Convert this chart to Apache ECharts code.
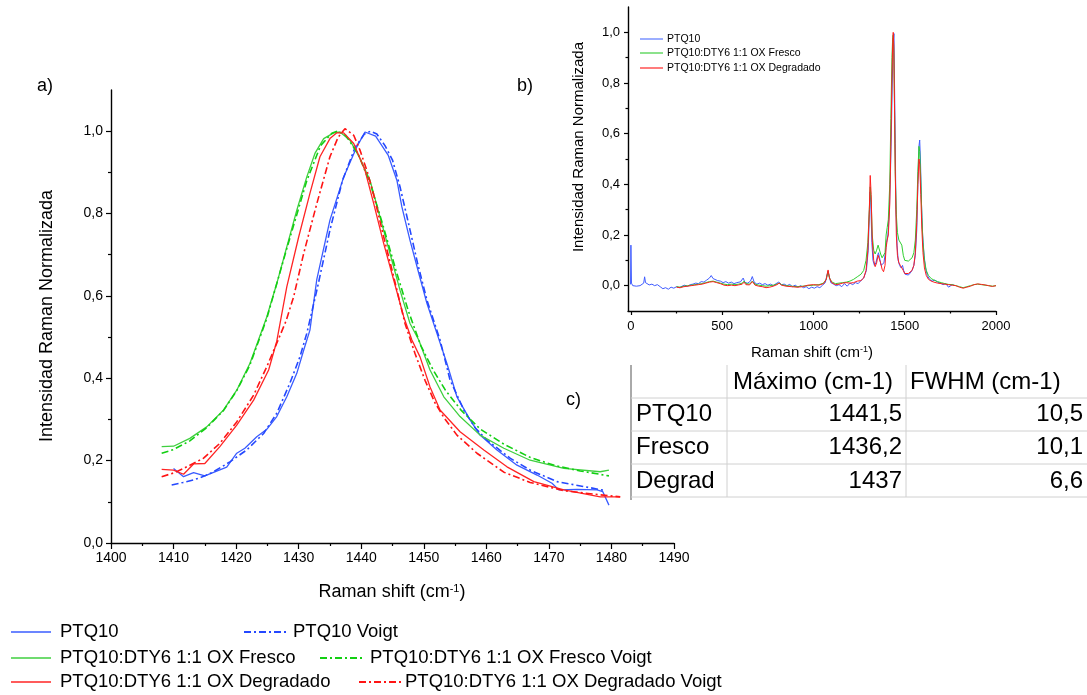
<!DOCTYPE html>
<html><head><meta charset="utf-8">
<script src="https://cdn.jsdelivr.net/npm/echarts@6/dist/echarts.min.js"></script>
<style>html,body{margin:0;padding:0;background:#fff}#c{width:1087px;height:695px}</style>
</head><body><div id="c"></div><script>
// ---------- Main panel (a) data ----------
const ptq10X = [1410.0,1411.6,1413.2,1415.0,1418.5,1420.1,1421.4,1423.3,1424.9,1426.5,1428.1,1429.7,1430.8,1431.8,1432.9,1435.0,1437.2,1439.3,1440.6,1442.3,1444.3,1445.7,1446.5,1447.8,1449.2,1450.5,1452.1,1453.7,1455.3,1457.4,1459.0,1461.7,1464.9,1468.1,1470.5,1471.6,1474.5,1477.7,1478.6,1479.6];
const ptq10Y = [0.181,0.161,0.171,0.163,0.184,0.218,0.230,0.258,0.276,0.307,0.355,0.412,0.468,0.517,0.640,0.784,0.889,0.962,0.998,0.988,0.942,0.881,0.816,0.735,0.655,0.582,0.509,0.436,0.355,0.299,0.262,0.226,0.189,0.165,0.145,0.129,0.130,0.129,0.125,0.092];
const ptq10VoigtX = [1409.7,1411.5,1413.2,1415.0,1416.4,1419.0,1421.7,1424.4,1426.5,1428.6,1430.2,1431.3,1433.0,1435.0,1437.0,1439.0,1440.5,1441.5,1442.5,1443.8,1445.0,1446.2,1447.5,1449.0,1450.5,1452.6,1454.2,1456.4,1458.2,1460.1,1463.8,1467.0,1471.3,1475.6,1478.8];
const ptq10VoigtY = [0.141,0.147,0.153,0.163,0.173,0.197,0.226,0.266,0.315,0.388,0.452,0.509,0.620,0.760,0.880,0.960,0.993,1.000,0.993,0.965,0.930,0.865,0.780,0.680,0.590,0.493,0.396,0.323,0.280,0.250,0.206,0.177,0.149,0.137,0.128];
const frescoX = [1408.1,1410.0,1412.6,1415.3,1418.0,1420.1,1422.2,1423.5,1424.9,1426.5,1428.1,1429.7,1431.3,1432.6,1434.0,1435.6,1436.6,1438.2,1439.8,1441.4,1443.0,1444.6,1446.2,1447.8,1449.2,1451.0,1453.2,1455.8,1459.0,1462.8,1467.0,1472.4,1478.2,1479.6];
const frescoY = [0.234,0.235,0.254,0.282,0.323,0.371,0.436,0.490,0.549,0.630,0.719,0.808,0.889,0.946,0.982,0.996,0.998,0.978,0.934,0.881,0.792,0.703,0.614,0.533,0.493,0.420,0.355,0.307,0.262,0.230,0.201,0.181,0.173,0.177];
const frescoVoigtX = [1408.1,1410.0,1412.6,1415.3,1418.0,1420.1,1422.2,1424.9,1428.1,1431.3,1433.5,1435.3,1436.2,1437.5,1439.5,1441.5,1443.5,1445.5,1447.5,1449.5,1451.5,1453.5,1456.0,1459.0,1462.8,1467.0,1471.0,1475.0,1479.6];
const frescoVoigtY = [0.218,0.227,0.248,0.280,0.322,0.370,0.432,0.545,0.715,0.880,0.965,0.995,1.000,0.990,0.945,0.870,0.770,0.665,0.565,0.480,0.420,0.370,0.322,0.277,0.240,0.208,0.188,0.175,0.163];
const degradX = [1408.1,1410.0,1411.6,1413.2,1415.0,1417.4,1420.1,1422.8,1425.2,1426.5,1428.1,1430.0,1431.8,1433.4,1435.0,1436.1,1437.2,1438.8,1440.6,1442.0,1443.6,1445.2,1446.8,1448.1,1449.4,1451.0,1452.6,1455.8,1459.6,1463.3,1467.6,1472.4,1478.2,1481.4];
const degradY = [0.179,0.177,0.167,0.192,0.193,0.234,0.286,0.347,0.420,0.490,0.622,0.743,0.849,0.938,0.982,0.996,0.996,0.970,0.905,0.824,0.727,0.638,0.549,0.493,0.452,0.379,0.323,0.270,0.226,0.185,0.149,0.129,0.112,0.112];
const degradVoigtX = [1408.1,1410.0,1411.6,1414.8,1417.4,1420.1,1422.8,1424.9,1426.5,1428.0,1429.2,1430.8,1432.9,1435.0,1436.3,1437.4,1438.8,1439.8,1441.0,1442.0,1443.6,1445.2,1447.0,1448.6,1450.2,1451.8,1453.2,1455.3,1458.5,1462.8,1467.0,1472.4,1478.2,1481.4];
const degradVoigtY = [0.161,0.170,0.181,0.206,0.242,0.294,0.359,0.428,0.485,0.540,0.598,0.703,0.824,0.938,0.985,1.006,0.990,0.954,0.900,0.845,0.743,0.646,0.533,0.460,0.395,0.340,0.305,0.262,0.218,0.172,0.147,0.127,0.117,0.112];

// ---------- Inset panel (b) data: [Raman shift, intensity] ----------
const insetPTQ10 = [[-2,0.005],[0,0.16],[3,0.01],[10,0.0],[20,0.005],[30,-0.002],[40,0.004],[50,0.0],[60,0.003],[70,0.01],[75,0.035],[80,0.012],[90,0.006],[100,0.003],[115,0.006],[130,0.0],[145,0.004],[160,-0.004],[175,-0.012],[190,-0.008],[205,-0.014],[220,-0.006],[235,-0.01],[250,-0.004],[265,-0.008],[280,-0.002],[295,0.002],[310,-0.003],[325,0.004],[340,0.006],[355,0.01],[370,0.008],[385,0.016],[400,0.014],[415,0.022],[430,0.03],[440,0.04],[450,0.028],[460,0.032],[475,0.02],[490,0.018],[505,0.012],[520,0.016],[535,0.01],[550,0.014],[565,0.008],[580,0.012],[600,0.015],[615,0.03],[625,0.012],[640,0.01],[655,0.018],[665,0.036],[675,0.014],[690,0.006],[705,0.01],[720,0.004],[735,0.008],[750,0.002],[765,0.006],[780,0.0],[795,0.008],[810,0.014],[825,0.004],[840,0.006],[855,0.0],[870,0.005],[885,-0.004],[900,0.002],[915,-0.006],[930,0.0],[945,-0.008],[960,-0.004],[975,-0.012],[990,-0.006],[1005,-0.01],[1020,-0.004],[1035,-0.008],[1050,0.002],[1065,0.012],[1075,0.045],[1080,0.058],[1085,0.04],[1095,0.012],[1110,0.006],[1125,0.0],[1140,0.004],[1155,-0.004],[1170,0.008],[1185,-0.002],[1200,0.01],[1215,0.004],[1230,0.012],[1245,0.008],[1260,0.02],[1275,0.03],[1290,0.06],[1300,0.14],[1306,0.28],[1310,0.37],[1314,0.33],[1320,0.17],[1326,0.1],[1334,0.08],[1342,0.09],[1350,0.115],[1356,0.13],[1362,0.11],[1370,0.08],[1378,0.075],[1386,0.09],[1394,0.13],[1400,0.17],[1408,0.2],[1416,0.3],[1422,0.45],[1428,0.65],[1434,0.88],[1438,0.97],[1441,0.995],[1444,0.8],[1448,0.56],[1452,0.3],[1458,0.16],[1464,0.1],[1472,0.08],[1480,0.07],[1488,0.08],[1494,0.06],[1502,0.045],[1510,0.04],[1520,0.042],[1530,0.05],[1540,0.06],[1550,0.08],[1558,0.12],[1566,0.22],[1572,0.4],[1578,0.55],[1582,0.575],[1586,0.5],[1592,0.32],[1598,0.2],[1606,0.12],[1614,0.07],[1624,0.04],[1636,0.025],[1650,0.018],[1665,0.022],[1680,0.014],[1695,0.01],[1710,0.004],[1725,0.008],[1740,-0.006],[1750,-0.012],[1760,0.004],[1775,0.0]];
const insetFresco = [[250,-0.004],[270,-0.006],[290,-0.002],[310,0.0],[330,0.002],[350,0.004],[370,0.006],[390,0.008],[410,0.012],[430,0.016],[450,0.018],[470,0.014],[490,0.01],[510,0.006],[530,0.004],[550,0.006],[570,0.004],[590,0.006],[610,0.01],[620,0.018],[630,0.008],[650,0.006],[665,0.018],[680,0.006],[700,0.002],[720,0.0],[740,-0.002],[760,0.0],[780,0.002],[800,0.006],[812,0.01],[825,0.004],[850,0.0],[880,-0.002],[910,-0.004],[940,-0.002],[970,0.0],[1000,0.002],[1030,0.004],[1055,0.01],[1070,0.025],[1080,0.056],[1088,0.03],[1100,0.015],[1120,0.008],[1140,0.01],[1160,0.012],[1180,0.014],[1200,0.018],[1220,0.025],[1240,0.035],[1260,0.045],[1275,0.06],[1288,0.1],[1298,0.17],[1306,0.3],[1311,0.39],[1316,0.34],[1322,0.2],[1330,0.14],[1338,0.125],[1346,0.14],[1354,0.16],[1360,0.155],[1368,0.125],[1376,0.11],[1384,0.105],[1392,0.13],[1398,0.2],[1404,0.23],[1410,0.26],[1418,0.4],[1424,0.66],[1430,0.9],[1434,0.98],[1437,0.99],[1440,0.92],[1444,0.7],[1448,0.45],[1454,0.28],[1460,0.21],[1468,0.18],[1476,0.175],[1484,0.16],[1492,0.12],[1500,0.1],[1510,0.095],[1520,0.097],[1530,0.1],[1540,0.11],[1550,0.13],[1558,0.18],[1566,0.3],[1572,0.45],[1578,0.55],[1582,0.53],[1588,0.42],[1594,0.27],[1600,0.17],[1608,0.1],[1618,0.06],[1630,0.04],[1645,0.028],[1660,0.022],[1680,0.016],[1700,0.012],[1720,0.008],[1740,0.005],[1760,0.004],[1780,0.0],[1800,-0.004],[1820,-0.008],[1840,-0.004],[1860,0.0],[1880,0.004],[1900,0.006],[1920,0.004],[1940,0.002],[1960,0.0],[1980,-0.002],[2000,0.0]];
const insetDegrad = [[250,-0.006],[270,-0.008],[290,-0.004],[310,-0.002],[330,0.0],[350,0.002],[370,0.004],[390,0.006],[410,0.01],[430,0.014],[450,0.016],[470,0.012],[490,0.008],[510,0.002],[530,0.0],[550,0.002],[570,0.0],[590,0.003],[610,0.006],[620,0.014],[630,0.004],[650,0.003],[665,0.016],[680,0.002],[700,-0.002],[720,-0.004],[740,-0.008],[760,-0.006],[780,-0.002],[800,0.004],[812,0.01],[825,0.002],[850,-0.002],[880,-0.004],[910,-0.006],[940,-0.004],[970,0.002],[1000,0.004],[1030,0.002],[1055,0.008],[1070,0.025],[1080,0.062],[1088,0.03],[1100,0.012],[1120,0.004],[1140,0.006],[1160,0.01],[1180,0.012],[1200,0.01],[1220,0.012],[1240,0.018],[1260,0.02],[1275,0.03],[1288,0.06],[1298,0.14],[1306,0.3],[1311,0.435],[1316,0.36],[1322,0.18],[1330,0.1],[1338,0.075],[1346,0.09],[1354,0.12],[1360,0.12],[1368,0.09],[1376,0.065],[1384,0.055],[1392,0.08],[1398,0.15],[1404,0.18],[1410,0.2],[1418,0.32],[1424,0.55],[1430,0.82],[1434,0.96],[1437,1.0],[1440,0.95],[1444,0.72],[1448,0.45],[1454,0.2],[1460,0.12],[1468,0.09],[1476,0.08],[1484,0.085],[1492,0.06],[1500,0.048],[1510,0.045],[1520,0.048],[1530,0.05],[1540,0.06],[1550,0.08],[1558,0.13],[1566,0.25],[1572,0.4],[1578,0.5],[1582,0.48],[1588,0.36],[1594,0.22],[1600,0.13],[1608,0.07],[1618,0.04],[1630,0.025],[1645,0.018],[1660,0.014],[1680,0.01],[1700,0.008],[1720,0.006],[1740,0.004],[1760,0.002],[1780,0.0],[1800,-0.006],[1820,-0.01],[1840,-0.006],[1860,-0.002],[1880,0.004],[1900,0.007],[1920,0.005],[1940,0.003],[1960,0.0],[1980,-0.003],[2000,0.0]];

// ---------- Axis tick values ----------
const mainYTicks = [0, 0.2, 0.4, 0.6, 0.8, 1.0];
const mainYMinor = [0.1, 0.3, 0.5, 0.7, 0.9];
const insetXTicks = [0, 500, 1000, 1500, 2000];
const insetXMinor = [250, 750, 1250, 1750];
const insetYTicks = [0, 0.2, 0.4, 0.6, 0.8, 1.0];
const insetYMinor = [0.1, 0.3, 0.5, 0.7, 0.9];

// ---------- Table (c) ----------
const tableHeader = ['', 'Máximo (cm-1)', 'FWHM (cm-1)'];
const tableRows = [['PTQ10', '1441,5', '10,5'], ['Fresco', '1436,2', '10,1'], ['Degrad', '1437', '6,6']];

// ---------- Legend labels ----------
const legendNames = ['PTQ10', 'PTQ10 Voigt', 'PTQ10:DTY6 1:1 OX Fresco', 'PTQ10:DTY6 1:1 OX Fresco Voigt', 'PTQ10:DTY6 1:1 OX Degradado', 'PTQ10:DTY6 1:1 OX Degradado Voigt'];
const insetLegendNames = ['PTQ10', 'PTQ10:DTY6 1:1 OX Fresco', 'PTQ10:DTY6 1:1 OX Degradado'];

const FONT = "'Liberation Sans', Arial, Helvetica, sans-serif";
const BLUE = '#3a5cff', BLUE_V = '#2448ff';
const GREEN = '#3fcf3f', GREEN_V = '#12cf12';
const RED = '#ff2424', RED_V = '#ff1414';
const DASHDOT = [7, 3, 2, 3];
const fmt = v => v.toFixed(1).replace('.', ',');
const fmtInt = v => String(Math.round(v));
const zip = (xs, ys) => xs.map((x, i) => [x, ys[i]]);

const axisLine = {show: true, onZero: false, lineStyle: {color: '#000', width: 1.4}};
const tickStyle = {color: '#000', width: 1.2};

function line(name, data, color, width, dash, xi, yi, z) {
  return {type: 'line', name, data, xAxisIndex: xi, yAxisIndex: yi, symbol: 'none', showSymbol: false,
    silent: true, z: z || 2, lineStyle: {color, width, type: dash || 'solid'}, animation: false};
}

const graphic = [];
function gText(x, y, text, size, align) {
  graphic.push({type: 'text', x, y, silent: true,
    style: {text, fill: '#000', fontSize: size, fontFamily: FONT, align: align || 'left', verticalAlign: 'middle'}});
}
function gLine(x1, y1, x2, y2, color, width, dash) {
  graphic.push({type: 'line', silent: true, shape: {x1, y1, x2, y2}, style: {stroke: color, lineWidth: width, lineDash: dash || null}});
}

// Axis names
graphic.push({type: 'text', x: 47, y: 316, rotation: Math.PI / 2, silent: true,
  style: {text: 'Intensidad Raman Normalizada', fill: '#000', fontSize: 18, fontFamily: FONT, align: 'center', verticalAlign: 'middle'}});
graphic.push({type: 'text', x: 392, y: 592, silent: true,
  style: {text: '{a|Raman shift (cm}{s|-1}{a|)}', fill: '#000', align: 'center', verticalAlign: 'middle',
    rich: {a: {fontSize: 18, fontFamily: FONT, fill: '#000'}, s: {fontSize: 11, fontFamily: FONT, fill: '#000', verticalAlign: 'top'}}}});
graphic.push({type: 'text', x: 579, y: 147, rotation: Math.PI / 2, silent: true,
  style: {text: 'Intensidad Raman Normalizada', fill: '#000', fontSize: 15, fontFamily: FONT, align: 'center', verticalAlign: 'middle'}});
graphic.push({type: 'text', x: 812, y: 353, silent: true,
  style: {text: '{a|Raman shift (cm}{s|-1}{a|)}', fill: '#000', align: 'center', verticalAlign: 'middle',
    rich: {a: {fontSize: 15, fontFamily: FONT, fill: '#000'}, s: {fontSize: 9, fontFamily: FONT, fill: '#000', verticalAlign: 'top'}}}});

// Panel letters
gText(37, 86, 'a)', 18);
gText(517, 86, 'b)', 18);
gText(566, 400, 'c)', 18);

// Main legend
const legRows = [
  {y: 632, c1: BLUE, c2: BLUE_V, x2: 244, t2: 293},
  {y: 658, c1: GREEN, c2: GREEN_V, x2: 320, t2: 370},
  {y: 682, c1: RED, c2: RED_V, x2: 359, t2: 405}
];
legRows.forEach((r, i) => {
  gLine(11, r.y, 51, r.y, r.c1, 1.5);
  gText(60, r.y, legendNames[2 * i], 18.5);
  gLine(r.x2, r.y, r.x2 + 44, r.y, r.c2, 1.8, DASHDOT);
  gText(r.t2, r.y, legendNames[2 * i + 1], 18.5);
});

// Inset legend
const insetLegColors = ['#5a78ff', GREEN, RED];
const insetLegY = [39, 53, 68];
insetLegendNames.forEach((n, i) => {
  gLine(640, insetLegY[i], 663, insetLegY[i], insetLegColors[i], 1.2);
  gText(667, insetLegY[i], n, 10.5);
});

// Table
const rowY = [365, 398, 431, 464, 497];
gLine(631, 365, 631, 500, '#555', 1);
for (let i = 1; i < rowY.length; i++) gLine(631, rowY[i], 1087, rowY[i], '#d0d0d0', 1);
gLine(727, 365, 727, 497, '#d0d0d0', 1);
gLine(906, 365, 906, 497, '#d0d0d0', 1);
gText(733, 382, tableHeader[1], 24);
gText(910, 382, tableHeader[2], 24);
tableRows.forEach((r, i) => {
  const cy = [414, 447, 481][i];
  gText(636, cy, r[0], 24);
  gText(902, cy, r[1], 24, 'right');
  gText(1083, cy, r[2], 24, 'right');
});

const option = {
  animation: false,
  backgroundColor: '#fff',
  grid: [
    {left: 111, top: 90, width: 563, height: 453, containLabel: false},
    {left: 628, top: 7, width: 368, height: 304, containLabel: false}
  ],
  xAxis: [
    {gridIndex: 0, type: 'value', min: 1400, max: 1490, interval: 10, position: 'bottom',
      axisLine, axisTick: {show: true, length: 6, lineStyle: tickStyle},
      minorTick: {show: true, splitNumber: 2, length: 3, lineStyle: tickStyle},
      axisLabel: {color: '#000', fontSize: 14, fontFamily: FONT, margin: 8, formatter: fmtInt},
      splitLine: {show: false}, minorSplitLine: {show: false}},
    {gridIndex: 1, type: 'value', min: -16, max: 2000, position: 'bottom',
      axisLine, axisTick: {show: true, length: 4, customValues: insetXTicks, lineStyle: tickStyle},
      axisLabel: {color: '#000', fontSize: 13, fontFamily: FONT, margin: 9, customValues: insetXTicks, formatter: fmtInt},
      splitLine: {show: false}},
    {gridIndex: 1, type: 'value', min: -16, max: 2000, position: 'bottom',
      axisLine: {show: false, onZero: false}, axisTick: {show: true, length: 2.5, customValues: insetXMinor, lineStyle: tickStyle},
      axisLabel: {show: false}, splitLine: {show: false}}
  ],
  yAxis: [
    {gridIndex: 0, type: 'value', min: 0, max: 1.1, position: 'left',
      axisLine, axisTick: {show: true, length: 5, customValues: mainYTicks, lineStyle: tickStyle},
      axisLabel: {color: '#000', fontSize: 14, fontFamily: FONT, margin: 8, customValues: mainYTicks, formatter: fmt},
      splitLine: {show: false}},
    {gridIndex: 0, type: 'value', min: 0, max: 1.1, position: 'left',
      axisLine: {show: false, onZero: false}, axisTick: {show: true, length: 3, customValues: mainYMinor, lineStyle: tickStyle},
      axisLabel: {show: false}, splitLine: {show: false}},
    {gridIndex: 1, type: 'value', min: -0.1, max: 1.1, position: 'left',
      axisLine, axisTick: {show: true, length: 4, customValues: insetYTicks, lineStyle: tickStyle},
      axisLabel: {color: '#000', fontSize: 13, fontFamily: FONT, margin: 8, customValues: insetYTicks, formatter: fmt},
      splitLine: {show: false}},
    {gridIndex: 1, type: 'value', min: -0.1, max: 1.1, position: 'left',
      axisLine: {show: false, onZero: false}, axisTick: {show: true, length: 2.5, customValues: insetYMinor, lineStyle: tickStyle},
      axisLabel: {show: false}, splitLine: {show: false}}
  ],
  series: [
    line('PTQ10', zip(ptq10X, ptq10Y), BLUE, 1.3, null, 0, 0, 2),
    line('PTQ10 Voigt', zip(ptq10VoigtX, ptq10VoigtY), BLUE_V, 1.6, DASHDOT, 0, 0, 2),
    line('PTQ10:DTY6 1:1 OX Fresco', zip(frescoX, frescoY), GREEN, 1.3, null, 0, 0, 3),
    line('PTQ10:DTY6 1:1 OX Fresco Voigt', zip(frescoVoigtX, frescoVoigtY), GREEN_V, 1.6, DASHDOT, 0, 0, 3),
    line('PTQ10:DTY6 1:1 OX Degradado', zip(degradX, degradY), RED, 1.3, null, 0, 0, 4),
    line('PTQ10:DTY6 1:1 OX Degradado Voigt', zip(degradVoigtX, degradVoigtY), RED_V, 1.6, DASHDOT, 0, 0, 4),
    line('inset PTQ10', insetPTQ10, '#3f5cff', 1, null, 1, 2, 2),
    line('inset Fresco', insetFresco, '#2fcf2f', 1, null, 1, 2, 3),
    line('inset Degradado', insetDegrad, '#ff1e1e', 1, null, 1, 2, 4)
  ],
  graphic: graphic
};

const chart = echarts.init(document.getElementById('c'), null, {renderer: 'canvas', width: 1087, height: 695});
chart.setOption(option);
</script></body></html>
